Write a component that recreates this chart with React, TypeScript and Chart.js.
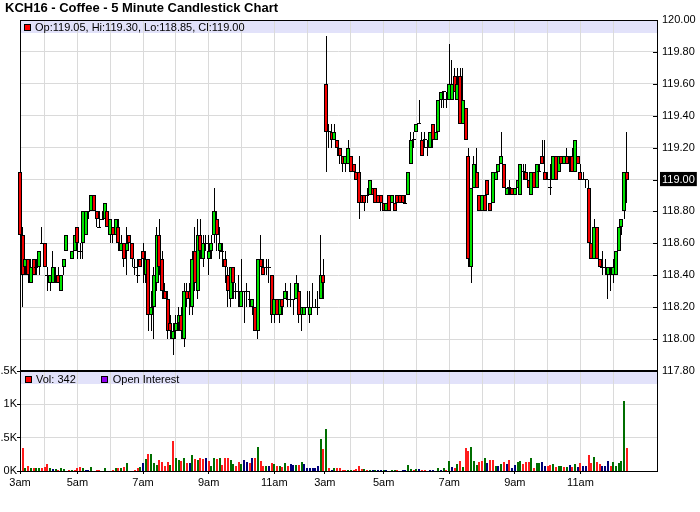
import React, { useEffect, useRef } from 'react';
import { Chart, registerables } from 'chart.js';

Chart.register(...registerables);

const TITLE = 'KCH16 - Coffee - 5 Minute Candlestick Chart';
const OHLC_LEGEND = 'Op:119.05, Hi:119.30, Lo:118.85, Cl:119.00';
const VOL_LEGEND = 'Vol: 342';
const OI_LEGEND = 'Open Interest';
const LAST_CLOSE = 119.0;

// 5-minute slots: day 1 slots 0..111, day 2 slots 112..222
const OPEN = [
  119.05,118.65,118.45,118.50,118.35,118.50,118.45,118.45,118.60,118.60,
  118.40,118.35,118.35,118.40,118.40,118.30,118.45,118.55,null,118.50,
  118.55,118.70,118.55,118.60,118.65,118.80,118.80,118.90,118.80,118.70,
  118.75,118.75,118.80,118.65,118.70,118.65,118.70,118.55,118.60,118.55,
  118.65,118.60,118.45,118.40,118.50,118.55,118.40,118.50,118.15,118.20,
  118.35,118.65,118.50,118.30,118.25,118.10,118.00,118.05,118.10,118.15,
  118.00,118.30,118.30,118.20,118.55,118.30,118.65,118.50,118.60,118.50,
  118.55,118.65,118.75,118.55,118.55,118.50,118.40,118.25,118.45,118.30,
  118.30,118.20,118.30,118.30,118.25,118.20,118.20,118.05,118.50,118.45,
  118.45,118.45,118.40,118.15,118.25,118.15,118.25,118.25,118.25,118.25,
  118.25,118.25,118.30,118.15,118.15,118.20,118.15,118.20,118.20,118.20,
  118.25,118.40,119.60,119.30,119.30,119.25,119.25,119.20,119.15,119.10,
  119.10,119.15,119.10,119.05,119.05,118.90,118.90,118.90,118.90,118.95,
  118.95,118.90,118.90,118.85,118.80,118.90,118.85,118.85,118.90,118.90,
  118.90,118.85,118.90,119.10,119.25,119.30,119.35,119.25,119.25,119.20,
  119.20,119.35,119.25,119.30,119.50,119.55,119.50,119.50,119.50,119.65,
  119.50,119.65,119.35,119.45,119.15,118.45,118.95,119.05,118.90,118.80,
  118.90,119.00,118.85,118.85,119.00,119.05,119.10,119.10,118.90,118.95,
  118.95,118.90,118.95,118.90,119.05,119.05,119.00,118.90,119.05,118.95,
  119.05,119.15,119.05,119.00,118.95,119.00,119.15,119.05,119.15,119.10,
  119.15,119.10,119.15,119.05,119.15,119.05,119.00,119.00,118.95,118.60,
  118.50,118.70,118.50,118.45,118.45,118.40,118.45,118.40,118.40,118.55,
  118.70,118.80,119.05,
];
const HIGH = [
  119.20,118.70,118.50,118.50,118.50,118.50,118.50,118.55,118.70,118.60,
  118.45,118.40,118.55,118.45,118.45,118.40,118.50,118.65,null,118.55,
  118.65,118.70,118.60,118.80,118.80,118.80,118.90,118.90,118.80,118.80,
  118.80,118.85,118.80,118.75,118.70,118.75,118.75,118.65,118.60,118.70,
  118.65,118.60,118.50,118.50,118.50,118.60,118.55,118.50,118.30,118.45,
  118.70,118.75,118.55,118.35,118.30,118.15,118.10,118.15,118.20,118.20,
  118.35,118.35,118.35,118.55,118.70,118.75,118.75,118.65,118.65,118.65,
  118.65,118.95,118.80,118.70,118.60,118.55,118.45,118.45,118.45,118.35,
  118.40,118.50,118.30,118.35,118.30,118.25,118.20,118.50,118.65,118.50,
  118.50,118.50,118.40,118.25,118.25,118.25,118.25,118.35,118.30,118.35,
  118.25,118.40,118.35,118.20,118.20,118.30,118.30,118.35,118.25,118.30,
  118.65,118.50,119.90,119.35,119.35,119.35,119.25,119.20,119.15,119.15,
  119.25,119.15,119.10,119.05,119.15,118.90,118.90,118.95,119.00,118.95,
  118.95,118.90,118.90,118.85,118.85,118.90,118.90,118.85,118.90,118.90,
  118.90,118.90,119.05,119.30,119.30,119.35,119.50,119.30,119.30,119.25,
  119.30,119.35,119.30,119.50,119.55,119.55,119.55,119.85,119.75,119.70,
  119.70,119.70,119.70,119.45,119.20,118.95,119.15,119.20,118.90,118.90,
  118.90,119.00,118.85,119.05,119.05,119.10,119.30,119.10,118.95,119.00,
  118.95,118.95,119.00,119.10,119.10,119.10,119.00,119.05,119.05,119.10,
  119.10,119.25,119.25,119.05,119.10,119.15,119.15,119.15,119.15,119.15,
  119.20,119.15,119.20,119.25,119.15,119.10,119.05,119.00,119.00,118.60,
  118.75,118.70,118.50,118.55,118.50,118.45,118.45,118.50,118.55,118.70,
  118.75,119.05,119.30,
];
const LOW = [
  118.60,118.20,118.40,118.35,118.35,118.40,118.40,118.40,118.60,118.45,
  118.30,118.30,118.35,118.35,118.35,118.30,118.40,118.55,null,118.50,
  118.55,118.50,118.50,118.50,118.65,118.75,118.80,118.80,118.70,118.70,
  118.75,118.75,118.70,118.60,118.60,118.65,118.55,118.55,118.45,118.40,
  118.60,118.45,118.40,118.35,118.45,118.35,118.35,118.05,118.05,118.00,
  118.30,118.40,118.25,118.25,118.00,118.00,117.90,118.00,118.05,118.00,
  117.95,118.20,118.15,118.15,118.30,118.25,118.50,118.45,118.55,118.40,
  118.50,118.60,118.55,118.50,118.45,118.35,118.20,118.20,118.25,118.25,
  118.20,118.20,118.10,118.20,118.20,118.15,118.05,118.00,118.45,118.40,
  118.40,118.35,118.10,118.10,118.15,118.10,118.15,118.25,118.20,118.20,
  118.15,118.25,118.10,118.05,118.15,118.20,118.10,118.20,118.20,118.15,
  118.25,118.25,119.05,119.20,119.20,119.25,119.15,119.10,119.05,119.05,
  119.10,119.05,119.05,119.00,118.75,118.85,118.80,118.85,118.90,118.90,
  118.85,118.85,118.80,118.80,118.80,118.80,118.85,118.80,118.85,118.85,
  118.85,118.85,118.90,119.10,119.20,119.30,119.35,119.15,119.20,119.15,
  119.20,119.20,119.25,119.30,119.45,119.45,119.45,119.50,119.50,119.55,
  119.50,119.35,119.35,119.25,118.45,118.35,118.95,118.95,118.80,118.80,
  118.80,118.90,118.80,118.85,119.00,119.05,119.10,118.95,118.90,118.90,
  118.90,118.90,118.95,118.90,119.00,119.00,118.95,118.90,118.95,118.95,
  119.05,119.10,119.00,119.00,118.90,119.00,119.00,119.05,119.10,119.10,
  119.10,119.05,119.05,119.05,119.10,119.00,119.00,118.95,118.60,118.50,
  118.50,118.50,118.45,118.40,118.40,118.25,118.30,118.35,118.40,118.55,
  118.65,118.75,118.85,
];
const CLOSE = [
  118.65,118.40,118.50,118.40,118.45,118.40,118.45,118.55,118.60,118.45,
  118.40,118.40,118.45,118.40,118.35,118.40,118.50,118.65,null,118.55,
  118.65,118.60,118.55,118.80,118.80,118.80,118.90,118.80,118.75,118.70,
  118.75,118.85,118.70,118.75,118.65,118.75,118.60,118.60,118.50,118.60,
  118.60,118.50,118.45,118.40,118.45,118.50,118.50,118.15,118.20,118.40,
  118.65,118.45,118.30,118.25,118.05,118.05,118.05,118.10,118.15,118.05,
  118.30,118.25,118.25,118.50,118.35,118.65,118.55,118.60,118.60,118.55,
  118.60,118.80,118.65,118.60,118.55,118.45,118.30,118.45,118.35,118.30,
  118.30,118.30,118.30,118.30,118.25,118.25,118.05,118.50,118.45,118.40,
  118.45,118.45,118.15,118.25,118.15,118.25,118.20,118.30,118.25,118.25,
  118.25,118.35,118.15,118.20,118.20,118.20,118.20,118.20,118.20,118.20,
  118.40,118.35,119.30,119.30,119.25,119.30,119.20,119.15,119.10,119.15,
  119.20,119.05,119.05,119.00,118.85,118.85,118.85,118.90,119.00,118.90,
  118.85,118.85,118.85,118.80,118.85,118.80,118.90,118.80,118.85,118.85,
  118.85,118.85,119.05,119.25,119.25,119.35,119.35,119.15,119.25,119.20,
  119.30,119.25,119.30,119.50,119.55,119.55,119.50,119.60,119.60,119.55,
  119.60,119.35,119.50,119.25,118.50,118.95,119.10,118.95,118.80,118.90,
  118.80,118.90,118.80,119.05,119.05,119.10,119.15,118.95,118.95,118.95,
  118.90,118.95,119.00,119.10,119.05,119.00,118.95,119.05,118.95,119.10,
  119.05,119.10,119.00,119.00,118.95,119.15,119.00,119.15,119.10,119.15,
  119.10,119.10,119.05,119.25,119.10,119.00,119.00,119.00,118.60,118.50,
  118.70,118.50,118.45,118.45,118.45,118.45,118.45,118.45,118.55,118.70,
  118.75,119.05,119.00,
];
const VOLUME = [
  null,340,40,70,50,40,40,50,40,60,
  100,40,25,25,20,40,25,null,20,20,
  20,40,60,40,20,20,60,null,20,20,
  null,40,null,null,20,40,40,40,60,120,
  null,null,20,40,60,120,175,250,250,120,
  90,160,130,80,130,90,450,190,160,150,
  200,125,120,240,175,160,190,180,190,150,
  70,190,175,200,90,190,200,160,110,70,
  130,100,160,130,120,190,190,360,150,70,
  70,70,115,100,70,70,60,120,80,100,
  90,90,90,130,100,50,50,50,50,70,
  475,325,625,40,20,40,40,40,20,15,
  15,10,20,30,70,30,30,20,10,10,
  10,10,10,10,10,null,10,10,10,null,
  20,20,90,30,20,30,30,10,10,null,
  10,10,null,40,20,50,10,150,60,50,
  100,150,60,340,300,360,150,90,130,150,
  190,120,160,160,80,80,100,130,100,160,
  50,90,130,150,100,130,130,190,50,120,
  120,130,80,80,90,100,60,80,80,60,
  60,90,60,100,60,120,80,80,240,120,
  210,130,100,80,80,150,80,130,80,120,
  150,1050,342,
];
// u = close up, d = close down, n = unchanged
const VOL_TREND = [
  '-','d','u','d','u','d','u','u','d','d',
  'd','u','n','u','d','u','u','-','d','u',
  'd','d','d','u','n','n','u','-','d','d',
  '-','u','-','-','d','u','d','u','d','u',
  '-','-','d','d','u','n','u','d','u','u',
  'u','d','d','d','d','u','d','u','u','d',
  'u','d','n','u','d','u','d','d','n','d',
  'u','u','d','u','d','d','d','u','u','d',
  'd','u','n','n','d','n','d','u','d','d',
  'u','n','d','u','d','u','d','u','d','n',
  'n','u','d','u','n','n','n','n','n','n',
  'u','d','u','d','n','u','d','d','d','d',
  'u','u','d','d','d','d','u','d','u','n',
  'u','n','n','u','n','-','u','u','d','n',
  'n','n','u','u','d','u','n','d','d','-',
  'n','n','-','u','n','u','d','u','n','d',
  'u','d','u','d','d','u','u','u','d','d',
  'u','n','d','d','u','n','u','d','n','d',
  'n','n','u','u','d','d','d','u','d','u',
  'u','n','n','d','d','u','d','u','u','d',
  'u','n','d','u','n','d','n','n','d','d',
  'u','d','d','n','n','n','d','u','u','u',
  'u','u','d',
];

const TIME_TICK_SLOTS = [0, 9, 21, 33, 45, 57, 69, 81, 93, 105, 111.5, 121, 133, 145, 157, 169, 181, 193, 205, 217];
const SESSION_START_SLOTS = [0, 111.5];
const TIME_LABEL_SLOTS = [0, 21, 45, 69, 93, 111.5, 133, 157, 181, 205];
const TIME_LABELS = ['3am', '5am', '7am', '9am', '11am', '3am', '5am', '7am', '9am', '11am'];
const PRICE_TICKS = [117.8, 118.0, 118.2, 118.4, 118.6, 118.8, 119.0, 119.2, 119.4, 119.6, 119.8, 120.0];
const VOLUME_TICKS = [0, 500, 1000, 1500];
const VOLUME_TICK_LABELS = ['0K', '0.5K', '1K', '1.5K'];

const X_MAX = 233;
const PRICE_TOP = 120.0;
const PRICE_BOTTOM = 117.8;
const VOLUME_TOP = 1500;
const PRICE_PANEL_PX = 351;
const VOLUME_PANEL_PX = 100;

const FONT_FAMILY = "'Liberation Sans', Arial, Helvetica, sans-serif";
const UP = '#00e400';
const DOWN = '#f40000';
const VOL_COLORS: Record<string, string> = { u: '#006e00', d: '#ff1c1c', n: '#000078' };
const GRID = '#dadada';
const BAND = '#e2e2fa';

const panelsPlugin = {
  id: 'panels',
  beforeDraw(chart: any) {
    const { ctx, chartArea: a, scales } = chart;
    const sepY = Math.round(scales.y.getPixelForValue(PRICE_BOTTOM));
    ctx.save();
    ctx.fillStyle = BAND;
    ctx.fillRect(a.left, a.top, a.right - a.left, 13);
    ctx.fillRect(a.left, sepY + 1, a.right - a.left, 12);
    ctx.restore();
  },
  // snap bar elements to whole pixels so candles and wicks render crisp
  beforeDatasetsDraw(chart: any) {
    chart.data.datasets.forEach((ds: any, i: number) => {
      const meta = chart.getDatasetMeta(i);
      const odd = Math.round(ds.barThickness) % 2 === 1;
      meta.data.forEach((el: any) => {
        el.x = odd ? Math.floor(el.x) + 0.5 : Math.round(el.x);
        const top = Math.round(Math.min(el.y, el.base));
        let bottom = Math.round(Math.max(el.y, el.base));
        if (bottom <= top) bottom = top + 1;
        el.y = top;
        el.base = bottom;
      });
    });
  },
  afterDraw(chart: any) {
    const { ctx, chartArea: a, scales } = chart;
    const sepY = Math.round(scales.y.getPixelForValue(PRICE_BOTTOM));
    ctx.save();
    ctx.fillStyle = '#000';
    ctx.fillRect(a.left, Math.round(a.top), a.right - a.left, 1);
    ctx.fillRect(a.left, sepY - 1, a.right - a.left, 2);
    for (const v of PRICE_TICKS) {
      if (v === PRICE_TOP || v === PRICE_BOTTOM) continue;
      const py = Math.round(scales.y.getPixelForValue(v));
      ctx.fillRect(Math.round(a.right) - 4, py, 4, 1);
    }
    ctx.restore();
  },
};

export default function App() {
  const canvasRef = useRef<HTMLCanvasElement | null>(null);

  useEffect(() => {
    const canvas = canvasRef.current;
    if (!canvas) return;

    const bodies: any[] = [];
    const bodyColors: string[] = [];
    const bodyBorders: number[] = [];
    const wicks: any[] = [];
    for (let k = 0; k < OPEN.length; k++) {
      const o = OPEN[k];
      const c = CLOSE[k];
      const h = HIGH[k];
      const l = LOW[k];
      if (o == null || c == null || h == null || l == null) continue;
      const doji = Math.abs(o - c) < 1e-9;
      bodies.push({ x: k, y: doji ? [o - 0.003, o + 0.003] : [o, c] });
      bodyColors.push(doji ? '#000' : c > o ? UP : DOWN);
      bodyBorders.push(doji ? 0 : 1);
      wicks.push({ x: k, y: [l, h] });
    }
    const vols: any[] = [];
    const volColors: string[] = [];
    for (let k = 0; k < VOLUME.length; k++) {
      const v = VOLUME[k];
      if (v == null) continue;
      vols.push({ x: k, y: v });
      volColors.push(VOL_COLORS[VOL_TREND[k]] || '#000');
    }

    const priceMin = PRICE_BOTTOM - (PRICE_TOP - PRICE_BOTTOM) * VOLUME_PANEL_PX / PRICE_PANEL_PX;
    const volMax = VOLUME_TOP * (PRICE_PANEL_PX + VOLUME_PANEL_PX) / VOLUME_PANEL_PX;
    const tickFont = { family: FONT_FAMILY, size: 11 };
    const edgeClip = { left: 3, top: 0, right: 0, bottom: 0 };

    const chart = new Chart(canvas, {
      type: 'bar',
      data: {
        datasets: [
          {
            label: 'body',
            data: bodies,
            yAxisID: 'y',
            backgroundColor: bodyColors,
            borderColor: '#000',
            borderWidth: bodyBorders,
            borderSkipped: false,
            barThickness: 4,
            grouped: false,
            inflateAmount: 0,
            clip: edgeClip,
          } as any,
          {
            label: 'wick',
            data: wicks,
            yAxisID: 'y',
            backgroundColor: '#000',
            borderWidth: 0,
            barThickness: 1,
            grouped: false,
            inflateAmount: 0,
            clip: edgeClip,
          } as any,
          {
            label: 'volume',
            data: vols,
            yAxisID: 'yv',
            backgroundColor: volColors,
            borderWidth: 0,
            barThickness: 2,
            grouped: false,
            inflateAmount: 0,
          } as any,
        ],
      },
      options: {
        responsive: false,
        animation: false,
        devicePixelRatio: 1,
        events: [],
        layout: { padding: { top: 20, left: 0, right: 0, bottom: 0 } },
        plugins: { legend: { display: false }, tooltip: { enabled: false }, title: { display: false } },
        scales: {
          x: {
            type: 'linear',
            min: 0,
            max: X_MAX,
            offset: false,
            afterBuildTicks: (s: any) => {
              s.ticks = TIME_TICK_SLOTS.map((v) => ({ value: v }));
            },
            afterFit: (s: any) => {
              s.height = 41;
            },
            ticks: {
              autoSkip: false,
              maxRotation: 0,
              minRotation: 0,
              padding: 2,
              color: '#000',
              font: tickFont,
              callback: (v: any) => {
                const i = TIME_LABEL_SLOTS.indexOf(Number(v));
                return i >= 0 ? TIME_LABELS[i] : '';
              },
            },
            grid: {
              offset: false,
              tickLength: 3,
              color: (ctx: any) => (SESSION_START_SLOTS.includes(ctx.tick?.value) ? 'rgba(0,0,0,0)' : GRID),
              tickColor: (ctx: any) => (TIME_LABEL_SLOTS.includes(ctx.tick?.value) ? '#000' : 'rgba(0,0,0,0)'),
            },
            border: { color: '#000', width: 1 },
          },
          y: {
            type: 'linear',
            position: 'right',
            min: priceMin,
            max: PRICE_TOP,
            afterBuildTicks: (s: any) => {
              s.ticks = PRICE_TICKS.map((v) => ({ value: v }));
            },
            afterFit: (s: any) => {
              s.width = 43;
            },
            ticks: {
              padding: 5,
              font: tickFont,
              color: (ctx: any) => (Math.abs(ctx.tick?.value - LAST_CLOSE) < 1e-6 ? '#fff' : '#000'),
              showLabelBackdrop: (ctx: any) => Math.abs(ctx.tick?.value - LAST_CLOSE) < 1e-6,
              backdropColor: '#000',
              backdropPadding: { left: 2, right: 2, top: 1, bottom: 0 },
              callback: (v: any) => Number(v).toFixed(2),
            },
            grid: {
              drawTicks: false,
              color: (ctx: any) => {
                const v = ctx.tick?.value;
                return v > PRICE_BOTTOM + 1e-6 && v < PRICE_TOP - 1e-6 ? GRID : 'rgba(0,0,0,0)';
              },
            },
            border: { color: '#000', width: 1 },
          },
          yv: {
            type: 'linear',
            position: 'left',
            min: 0,
            max: volMax,
            afterBuildTicks: (s: any) => {
              s.ticks = VOLUME_TICKS.map((v) => ({ value: v }));
            },
            afterFit: (s: any) => {
              s.width = 20;
            },
            ticks: {
              padding: 0,
              font: tickFont,
              color: '#000',
              callback: (v: any) => {
                const i = VOLUME_TICKS.indexOf(Number(v));
                return i >= 0 ? VOLUME_TICK_LABELS[i] : '';
              },
            },
            grid: {
              tickLength: 3,
              tickColor: '#000',
              color: (ctx: any) => {
                const v = ctx.tick?.value;
                return v > 0 && v < VOLUME_TOP ? GRID : 'rgba(0,0,0,0)';
              },
            },
            border: { color: '#000', width: 1 },
          },
        },
      } as any,
      plugins: [panelsPlugin],
    });

    return () => chart.destroy();
  }, []);

  const swatch = (color: string) => ({
    display: 'inline-block',
    boxSizing: 'border-box' as const,
    width: 7,
    height: 7,
    background: color,
    border: '1px solid #000',
  });

  return (
    <div
      style={{
        position: 'absolute',
        left: 0,
        top: 0,
        width: 700,
        height: 512,
        background: '#fff',
        fontFamily: FONT_FAMILY,
        color: '#000',
      }}
    >
      <canvas ref={canvasRef} width={700} height={512} style={{ position: 'absolute', left: 0, top: 0, width: 700, height: 512 }} />
      <div style={{ position: 'absolute', left: 5, top: 0, fontSize: 13, fontWeight: 'bold', lineHeight: '15px', whiteSpace: 'nowrap' }}>
        {TITLE}
      </div>
      <div style={{ position: 'absolute', left: 24, top: 21, height: 12, display: 'flex', alignItems: 'center', fontSize: 11, whiteSpace: 'nowrap' }}>
        <span style={swatch('#ff0000')} />
        <span style={{ marginLeft: 4 }}>{OHLC_LEGEND}</span>
      </div>
      <div style={{ position: 'absolute', left: 25, top: 373, height: 12, display: 'flex', alignItems: 'center', fontSize: 11, whiteSpace: 'nowrap' }}>
        <span style={swatch('#ff0000')} />
        <span style={{ marginLeft: 4 }}>{VOL_LEGEND}</span>
        <span style={{ ...swatch('#9000f0'), marginLeft: 25 }} />
        <span style={{ marginLeft: 5 }}>{OI_LEGEND}</span>
      </div>
    </div>
  );
}
